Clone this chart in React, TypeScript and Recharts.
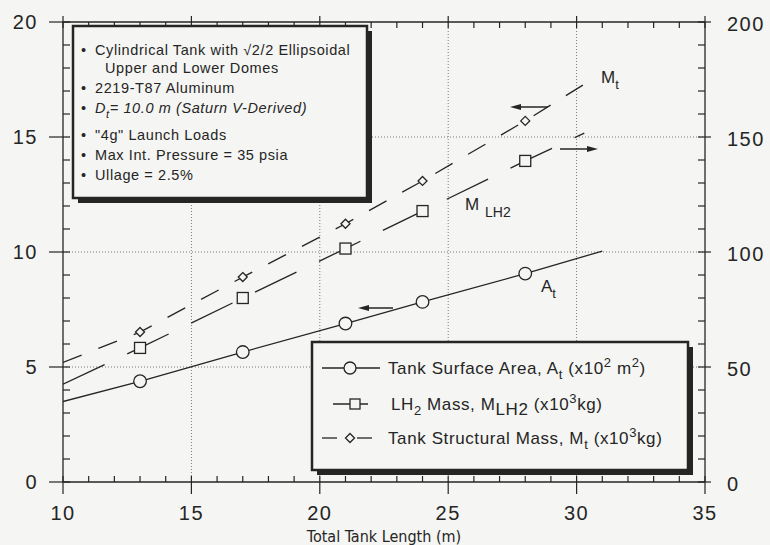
import React from "react";
import { ComposedChart, Line, XAxis, YAxis, ReferenceLine } from "recharts";

// tank lengths (m) where the points were computed
const markerLengths = [13, 17, 21, 24, 28];
// tank surface area, x10^2 m^2 (left axis)
const surfaceArea = [4.38, 5.65, 6.89, 7.83, 9.06];
// LH2 mass, x10^3 kg (right axis)
const lh2Mass = [58.3, 80.0, 101.5, 117.8, 139.6];
// tank structural mass, x10^3 kg (left axis)
const structMass = [6.52, 8.91, 11.23, 13.09, 15.7];

// where each fitted curve starts and stops: [length, value]
const areaEnds = [[10, 3.5], [31.0, 10.04]];
const lh2Ends = [[10, 42.5], [30.3, 151.7]];
const massEnds = [[10, 5.2], [30.65, 17.54]];

const lengthLabels = [10, 15, 20, 25, 30, 35];
const leftLabels = [0, 5, 10, 15, 20];
const rightLabels = [0, 50, 100, 150, 200];
const gridX = [15, 20, 25, 30];
const gridY = [5, 10, 15];

const INK = "#252525";
const BG = "#f5f5f3";
const GRID = "#7a7a7a";
const SANS = "'Liberation Sans', Arial, sans-serif";

const minorX = Array.from({ length: 26 }, (_, i) => 10 + i);
const minorLeft = Array.from({ length: 21 }, (_, i) => i);
const minorRight = Array.from({ length: 21 }, (_, i) => i * 10);

const points = (xs: number[], ys: number[]) => xs.map((x, i) => ({ x, y: ys[i] }));
const curve = (ends: number[][], xs: number[], ys: number[]) => [
  { x: ends[0][0], y: ends[0][1] },
  ...points(xs, ys),
  { x: ends[1][0], y: ends[1][1] },
];

const areaCurve = curve(areaEnds, markerLengths, surfaceArea);
const lh2Curve = curve(lh2Ends, markerLengths, lh2Mass);
const massCurve = curve(massEnds, markerLengths, structMass);

const tickText = { fontFamily: SANS, fontSize: 20, letterSpacing: 1.5, fill: INK };

function BottomTick({ x, y, payload }: any) {
  const v = payload.value;
  const major = lengthLabels.includes(v);
  return (
    <g>
      <line x1={x} x2={x} y1={y - 6} y2={major ? y + 12 : y} stroke={INK} strokeWidth={1.2} />
      {major && (
        <text x={x} y={y + 38} textAnchor="middle" style={tickText}>
          {v}
        </text>
      )}
    </g>
  );
}

function TopTick({ x, y, payload }: any) {
  const major = lengthLabels.includes(payload.value);
  return <line x1={x} x2={x} y1={major ? y - 6 : y} y2={y + 6} stroke={INK} strokeWidth={1.2} />;
}

function LeftTick({ x, y, payload }: any) {
  const v = payload.value;
  const major = leftLabels.includes(v);
  return (
    <g>
      <line x1={major ? x - 14 : x} x2={x + 7} y1={y} y2={y} stroke={INK} strokeWidth={1.2} />
      {major && (
        <text x={x - 25} y={y + 7} textAnchor="end" style={tickText}>
          {v}
        </text>
      )}
    </g>
  );
}

function RightTick({ x, y, payload }: any) {
  const v = payload.value;
  const major = rightLabels.includes(v);
  return (
    <g>
      <line x1={x - 7} x2={major ? x + 6 : x} y1={y} y2={y} stroke={INK} strokeWidth={1.2} />
      {major && (
        <text x={x + 22} y={y + 9} textAnchor="start" style={tickText}>
          {v}
        </text>
      )}
    </g>
  );
}

const circleDot = (p: any) => (
  <circle key={p.index} cx={p.cx} cy={p.cy} r={6.3} fill={BG} stroke={INK} strokeWidth={1.3} />
);
const squareDot = (p: any) => (
  <rect key={p.index} x={p.cx - 5.5} y={p.cy - 5.5} width={11} height={11} fill={BG} stroke={INK} strokeWidth={1.3} />
);
const diamondDot = (p: any) => (
  <path
    key={p.index}
    d={`M${p.cx},${p.cy - 4.5} L${p.cx + 4.5},${p.cy} L${p.cx},${p.cy + 4.5} L${p.cx - 4.5},${p.cy} Z`}
    fill={BG}
    stroke={INK}
    strokeWidth={1.3}
  />
);

function Arrow({ x1, x2, y }: { x1: number; x2: number; y: number }) {
  // head at x2
  const d = x2 > x1 ? -1 : 1;
  return (
    <g>
      <line x1={x1} x2={x2 + d * 6} y1={y} y2={y} stroke={INK} strokeWidth={1.5} />
      <path d={`M${x2},${y} L${x2 + d * 11},${y - 3} L${x2 + d * 11},${y + 3} Z`} fill={INK} />
    </g>
  );
}

function Overlay() {
  const note = { fontFamily: SANS, fontSize: 14.5, letterSpacing: 0.6, fill: INK };
  const leg = { fontFamily: SANS, fontSize: 17, letterSpacing: 0.6, fill: INK };
  const lab = { fontFamily: SANS, fontSize: 17, fill: INK };
  return (
    <svg width={770} height={545} style={{ position: "absolute", left: 0, top: 0 }}>
      {/* notes box */}
      <rect x={78} y={31} width={294} height={172} fill={INK} />
      <rect x={73} y={26} width={294} height={172} fill={BG} stroke={INK} strokeWidth={2.5} />
      <g style={note}>
        <text x={81} y={55}>•</text>
        <text x={95} y={55}>Cylindrical Tank with √2/2 Ellipsoidal</text>
        <text x={105} y={73}>Upper and Lower Domes</text>
        <text x={81} y={93}>•</text>
        <text x={95} y={93}>2219-T87  Aluminum</text>
        <text x={81} y={113}>•</text>
        <text x={95} y={113} fontStyle="italic">
          D<tspan dy={5} fontSize={11}>t</tspan>
          <tspan dy={-5}>= 10.0 m (Saturn V-Derived)</tspan>
        </text>
        <text x={81} y={140}>•</text>
        <text x={95} y={140}>"4g" Launch Loads</text>
        <text x={81} y={160}>•</text>
        <text x={95} y={160}>Max Int. Pressure = 35 psia</text>
        <text x={81} y={180}>•</text>
        <text x={95} y={180}>Ullage = 2.5%</text>
      </g>

      {/* legend box */}
      <rect x={317} y={347} width={376} height={128} fill={INK} />
      <rect x={312} y={342} width={376} height={128} fill={BG} stroke={INK} strokeWidth={2.5} />
      <line x1={322} x2={380} y1={368} y2={368} stroke={INK} strokeWidth={1.3} />
      <circle cx={350} cy={368} r={6} fill={BG} stroke={INK} strokeWidth={1.3} />
      <line x1={333} x2={368} y1={404} y2={404} stroke={INK} strokeWidth={1.3} />
      <rect x={350} y={399} width={10} height={10} fill={BG} stroke={INK} strokeWidth={1.3} />
      <line x1={322} x2={337} y1={438} y2={438} stroke={INK} strokeWidth={1.3} />
      <line x1={357} x2={372} y1={438} y2={438} stroke={INK} strokeWidth={1.3} />
      <path d="M350,433.5 L354.5,438 L350,442.5 L345.5,438 Z" fill={BG} stroke={INK} strokeWidth={1.3} />
      <g style={leg}>
        <text x={388} y={374}>
          Tank Surface Area,  A<tspan dy={5} fontSize={13}>t</tspan>
          <tspan dy={-5}> (x10</tspan>
          <tspan dy={-7} fontSize={13}>2</tspan>
          <tspan dy={7}> m</tspan>
          <tspan dy={-7} fontSize={13}>2</tspan>
          <tspan dy={7}>)</tspan>
        </text>
        <text x={391} y={410}>
          LH<tspan dy={5} fontSize={13}>2</tspan>
          <tspan dy={-5}> Mass, M</tspan>
          <tspan dy={5}>LH2</tspan>
          <tspan dy={-5}> (x10</tspan>
          <tspan dy={-7} fontSize={13}>3</tspan>
          <tspan dy={7}>kg)</tspan>
        </text>
        <text x={388} y={444}>
          Tank Structural  Mass, M<tspan dy={5} fontSize={13}>t</tspan>
          <tspan dy={-5}> (x10</tspan>
          <tspan dy={-7} fontSize={13}>3</tspan>
          <tspan dy={7}>kg)</tspan>
        </text>
      </g>

      {/* curve labels and axis arrows */}
      <text x={601} y={83} style={lab}>
        M<tspan dy={6} fontSize={13}>t</tspan>
      </text>
      <text x={465} y={210} style={lab}>
        M
        <tspan x={485} y={217} fontSize={14}>
          LH2
        </tspan>
      </text>
      <text x={541} y={292} style={lab}>
        A<tspan dy={6} fontSize={13}>t</tspan>
      </text>
      <Arrow x1={548} x2={510} y={107} />
      <Arrow x1={560} x2={598} y={149} />
      <Arrow x1={393} x2={358} y={308} />
    </svg>
  );
}

export default function App() {
  return (
    <div style={{ position: "absolute", left: 0, top: 0, width: 770, height: 545, background: BG }}>
      <ComposedChart width={770} height={545} margin={{ top: 0, right: 0, bottom: 0, left: 0 }}>
        <XAxis
          xAxisId="b"
          type="number"
          dataKey="x"
          domain={[10, 35]}
          ticks={minorX}
          interval={0}
          height={63}
          tickSize={0}
          tickMargin={0}
          tickLine={false}
          axisLine={{ stroke: INK, strokeWidth: 1.3 }}
          tick={BottomTick}
          allowDataOverflow
          label={{
            value: "Total Tank Length (m)",
            position: "insideBottom",
            offset: 3,
            style: { fontFamily: "'Liberation Sans Narrow', 'DejaVu Sans Condensed', sans-serif", fontSize: 16, fill: INK },
          }}
        />
        <XAxis
          xAxisId="t"
          orientation="top"
          type="number"
          dataKey="x"
          domain={[10, 35]}
          ticks={minorX}
          interval={0}
          height={22}
          tickSize={0}
          tickMargin={0}
          tickLine={false}
          axisLine={{ stroke: INK, strokeWidth: 1.3 }}
          tick={TopTick}
          allowDataOverflow
        />
        <YAxis
          yAxisId="l"
          type="number"
          domain={[0, 20]}
          ticks={minorLeft}
          interval={0}
          width={63}
          tickSize={0}
          tickMargin={0}
          tickLine={false}
          axisLine={{ stroke: INK, strokeWidth: 1.3 }}
          tick={LeftTick}
          allowDataOverflow
        />
        <YAxis
          yAxisId="r"
          orientation="right"
          type="number"
          domain={[0, 200]}
          ticks={minorRight}
          interval={0}
          width={65}
          tickSize={0}
          tickMargin={0}
          tickLine={false}
          axisLine={{ stroke: INK, strokeWidth: 1.3 }}
          tick={RightTick}
          allowDataOverflow
        />
        {gridX.map((v) => (
          <ReferenceLine key={`gx${v}`} xAxisId="b" yAxisId="l" x={v} stroke={GRID} strokeDasharray="1 2" />
        ))}
        {gridY.map((v) => (
          <ReferenceLine key={`gy${v}`} xAxisId="b" yAxisId="l" y={v} stroke={GRID} strokeDasharray="1 2" />
        ))}
        <Line xAxisId="b" yAxisId="l" data={areaCurve} dataKey="y" type="linear" stroke={INK} strokeWidth={1.3} dot={false} isAnimationActive={false} />
        <Line xAxisId="b" yAxisId="r" data={lh2Curve} dataKey="y" type="linear" stroke={INK} strokeWidth={1.3} strokeDasharray="46 25" dot={false} isAnimationActive={false} />
        <Line xAxisId="b" yAxisId="l" data={massCurve} dataKey="y" type="linear" stroke={INK} strokeWidth={1.3} strokeDasharray="20 18" dot={false} isAnimationActive={false} />
        <Line xAxisId="b" yAxisId="l" data={points(markerLengths, surfaceArea)} dataKey="y" stroke="none" dot={circleDot} isAnimationActive={false} />
        <Line xAxisId="b" yAxisId="r" data={points(markerLengths, lh2Mass)} dataKey="y" stroke="none" dot={squareDot} isAnimationActive={false} />
        <Line xAxisId="b" yAxisId="l" data={points(markerLengths, structMass)} dataKey="y" stroke="none" dot={diamondDot} isAnimationActive={false} />
      </ComposedChart>
      <Overlay />
    </div>
  );
}
